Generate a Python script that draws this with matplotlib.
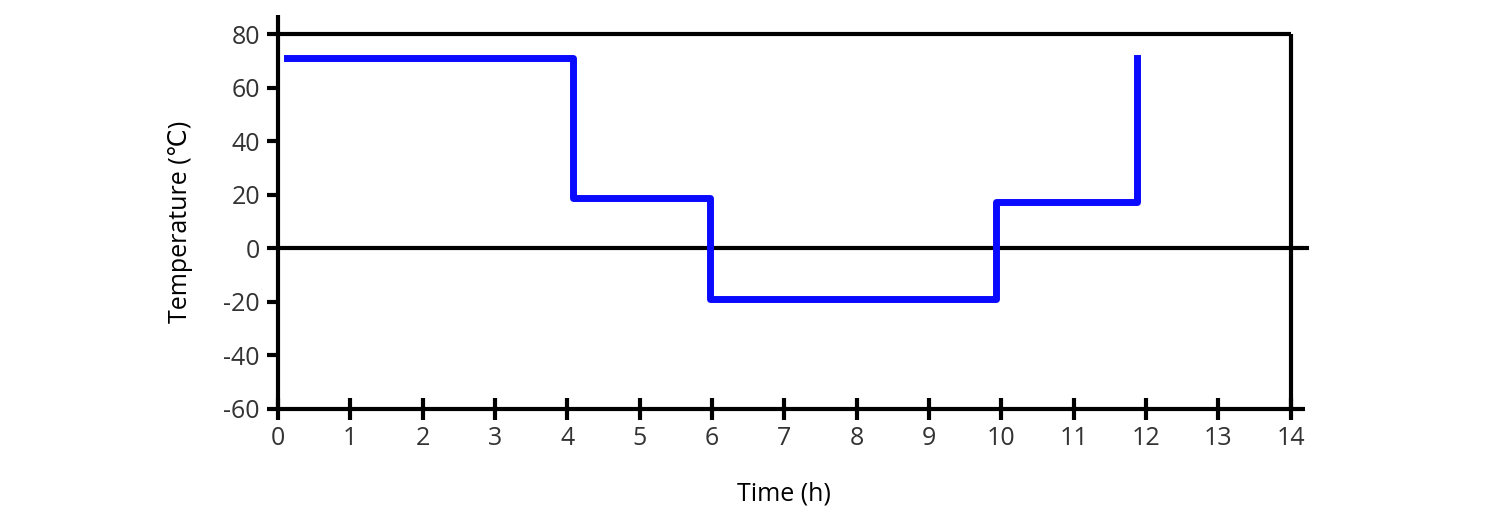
import matplotlib
matplotlib.use('Agg')
import matplotlib.pyplot as plt

plt.rcParams['font.family'] = ['Open Sans', 'DejaVu Sans']
plt.rcParams['font.size'] = 18
plt.rcParams['axes.unicode_minus'] = False

# step profile
times = [0.12, 4.08, 5.97, 9.92, 11.88]
temps = [71, 18.8, -19, 17.3, 71]
x_ticks = list(range(0, 15))
y_ticks = list(range(-60, 81, 20))

fig = plt.figure(figsize=(15.05, 5.28), dpi=100)
ax = fig.add_axes([0.1847, 0.2254, 0.673, 0.710])
ax.set_xlim(0, 14)
ax.set_ylim(-60, 80)
for s in ax.spines.values():
    s.set_visible(False)

k = dict(color='black', lw=3, clip_on=False, solid_capstyle='butt')
ax.plot([0, 0], [-60, 87], **k)          # left axis, runs past the top
ax.plot([0, 14], [80, 80], **k)          # top frame
ax.plot([14, 14], [-60, 80], **k)        # right frame
ax.plot([0, 14.2], [-60, -60], **k)      # bottom axis
ax.plot([0, 14.25], [0, 0], **k)         # zero line

ax.step(times, temps, where='post', color='#0a0aff', lw=5, clip_on=False)

ax.set_xticks(x_ticks)
ax.set_yticks(y_ticks)
ax.tick_params(axis='x', direction='inout', length=16, width=3, colors='black',
               labelcolor='#333333', pad=4)
ax.tick_params(axis='y', direction='out', length=8, width=3, colors='black',
               labelcolor='#333333', pad=5)
ax.set_xlabel('Time (h)', labelpad=22)
ax.set_ylabel('Temperature (℃)', labelpad=22)

fig.savefig('out.png', dpi=100)
